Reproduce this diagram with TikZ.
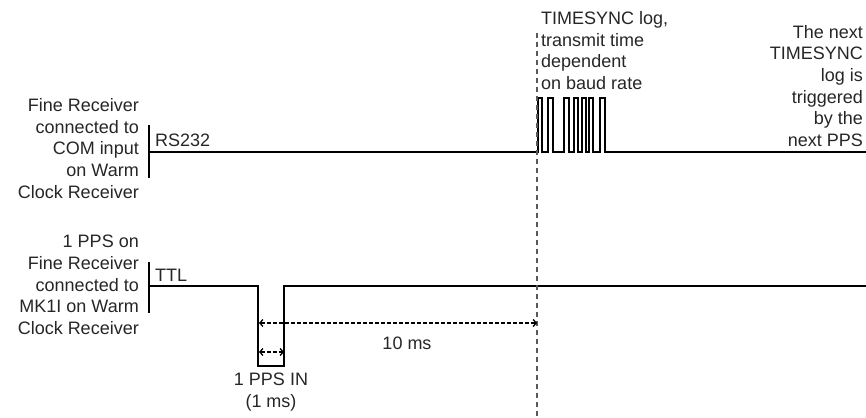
\documentclass[tikz,border=0pt]{standalone}
\usepackage{fontspec}
\setmainfont{Liberation Sans}
\usetikzlibrary{arrows.meta}
\begin{document}
\begin{tikzpicture}[x=1pt,y=-1pt,
  lbl/.style={inner sep=0pt,font=\fontsize{18}{21.7}\selectfont,text=black!85},
  sig/.style={line width=1.3pt,line join=miter},
  marker/.style={dashed,dash pattern=on 5pt off 4pt,line width=1.1pt,black!65},
  dim/.style={line width=1.3pt,dash pattern=on 4pt off 2pt,
    {Straight Barb[length=3pt,width=7pt,line width=1.3pt]}-{Straight Barb[length=3pt,width=7pt,line width=1.3pt]}}]
\useasboundingbox (0,0) rectangle (866,417);
% labels
\node[lbl,anchor=east,align=right] (l1) at (139,148.5) {Fine Receiver\\connected to\\COM input\\on Warm\\Clock Receiver};
\node[lbl,anchor=east,align=right] (l2) at (139,285) {1 PPS on\\Fine Receiver\\connected to\\MK1I on Warm\\Clock Receiver};
\node[lbl,anchor=west] (rs) at (155,140) {RS232};
\node[lbl,anchor=west] (ttl) at (155,275) {TTL};
\node[lbl,anchor=west,align=left] (ts) at (541,50.5) {TIMESYNC log,\\transmit time\\dependent\\on baud rate};
\node[lbl,anchor=east,align=right] (nx) at (863,86) {The next\\TIMESYNC\\log is\\triggered\\by the\\next PPS};
\node[lbl] (ten) at (407,343) {10 ms};
\node[lbl,anchor=north,align=center] (pin) at (271,373) {1 PPS IN\\(1 ms)};
% coordinates
\coordinate (rsbt) at (149,125);
\coordinate (rsbb) at (149,178);
\coordinate (ttbt) at (149,262);
\coordinate (ttbb) at (149,313);
\coordinate (mtop) at (537,33);
\coordinate (mbot) at (537,417);
\coordinate (a1) at (259,323);
\coordinate (a2) at (537,323);
\coordinate (b1) at (259,352);
\coordinate (b2) at (284,352);
% RS232 signal
\draw[sig] (rsbt) -- (rsbb);
\draw[sig] (149,152) -- (538,152)
  -- (538,98) -- (542,98) -- (542,152)
  -- (548,152) -- (548,98) -- (553,98) -- (553,152)
  -- (564,152) -- (564,98) -- (569,98) -- (569,152)
  -- (574,152) -- (574,98) -- (578,98) -- (578,152)
  -- (582,152) -- (582,98) -- (586,98) -- (586,152)
  -- (589,152) -- (589,98) -- (593,98) -- (593,152)
  -- (600,152) -- (600,98) -- (605,98) -- (605,152)
  -- (866,152);
% TTL signal
\draw[sig] (ttbt) -- (ttbb);
\draw[sig] (149,286) -- (258,286) -- (258,366) -- (284,366) -- (284,286) -- (866,286);
% marker and dimensions
\draw[marker] (mtop) -- (mbot);
\draw[dim] (a1) -- (a2);
\draw[dim] (b1) -- (b2);
\end{tikzpicture}
\end{document}
